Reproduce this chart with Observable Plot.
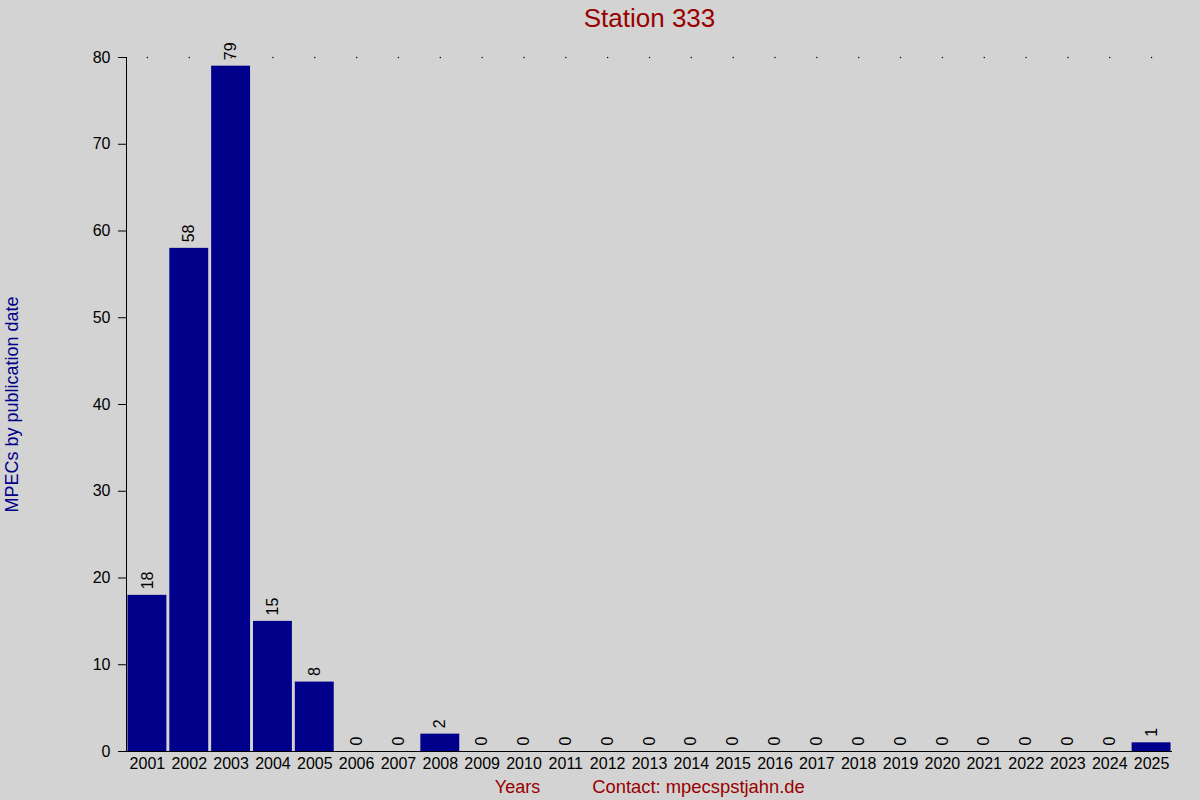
<!DOCTYPE html>
<html>
<head>
<meta charset="utf-8">
<script src="https://cdn.jsdelivr.net/npm/d3@7"></script>
<script src="https://cdn.jsdelivr.net/npm/@observablehq/plot@0.6"></script>
<style>
  html, body { margin: 0; padding: 0; background: #d3d3d3; }
  #chart svg { display: block; }
</style>
</head>
<body>
<div id="chart"></div>
<script>
const years = ["2001","2002","2003","2004","2005","2006","2007","2008","2009","2010","2011","2012","2013","2014","2015","2016","2017","2018","2019","2020","2021","2022","2023","2024","2025"];
const counts = [18, 58, 79, 15, 8, 0, 0, 2, 0, 0, 0, 0, 0, 0, 0, 0, 0, 0, 0, 0, 0, 0, 0, 0, 1];
const yTicks = [0, 10, 20, 30, 40, 50, 60, 70, 80];
const titleText = "Station 333";
const yLabel = "MPECs by publication date";
const xLabel = "Years";
const contactText = "Contact: mpecspstjahn.de";

const data = years.map((y, i) => ({year: y, count: counts[i]}));

const font = "'Liberation Sans', Arial, Helvetica, sans-serif";

const chart = Plot.plot({
  width: 1200,
  height: 800,
  marginLeft: 126,
  marginRight: 28,
  marginTop: 57,
  marginBottom: 49,
  style: {background: "#d3d3d3", fontFamily: font, fontSize: "16px", color: "black", overflow: "visible"},
  x: {domain: years, paddingInner: 0.07, paddingOuter: 0.035, round: false, label: null},
  y: {domain: [0, 80], label: null},
  marks: [
    Plot.barY(data, {x: "year", y: "count", fill: "#00008b"}),
    Plot.dot(years, {x: d => d, y: () => 80, r: 0.7, fill: "black", stroke: null}),
    Plot.text(data, {x: "year", y: "count", text: d => String(d.count), rotate: -90, textAnchor: "start", dy: -6, fontSize: 16, fill: "black"}),
    Plot.axisY({ticks: yTicks, tickSize: 8, tickPadding: 8, fontSize: 16, label: null, tickFormat: d => String(d)}),
    Plot.axisX({tickSize: 0, tickPadding: 6, fontSize: 16, label: null}),
    Plot.frame({anchor: "left", stroke: "black"}),
    Plot.ruleY([0], {stroke: "black", insetLeft: -8}),
    Plot.text([titleText], {frameAnchor: "top", dy: -39, fontSize: 26, fill: "#990000", text: d => d, lineAnchor: "middle"}),
    Plot.text([yLabel], {frameAnchor: "left", textAnchor: "middle", dx: -114, rotate: -90, fontSize: 18, fill: "#00008b", text: d => d}),
    Plot.text([xLabel], {frameAnchor: "bottom-left", textAnchor: "middle", dx: 391, dy: 41, fontSize: 18, fill: "#990000", text: d => d}),
    Plot.text([contactText], {frameAnchor: "bottom-left", textAnchor: "middle", dx: 572, dy: 41, fontSize: 18.4, fill: "#990000", text: d => d})
  ]
});
document.getElementById("chart").appendChild(chart);
</script>
</body>
</html>
